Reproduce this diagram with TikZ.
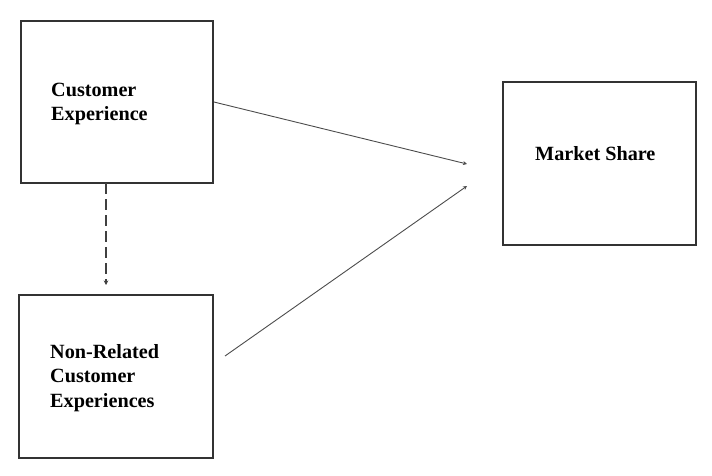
\documentclass[tikz,border=0pt]{standalone}
\usepackage{fontspec}
\setmainfont{Liberation Serif}
\usetikzlibrary{arrows.meta}
\begin{document}
\begin{tikzpicture}[x=1pt,y=-1pt,
  boxnode/.style={draw=black!80,line width=1.8pt,inner sep=0pt},
  label/.style={anchor=west,align=left,inner sep=0pt,font=\fontsize{20.2}{24.5}\selectfont\bfseries},
  link/.style={draw=black!70,line width=0.9pt,-{Stealth[length=4pt,width=4pt]}},
  dlink/.style={draw=black!75,line width=1.8pt,dash pattern=on 11pt off 5pt,-{Stealth[length=4.5pt,width=4.5pt]}}]
\useasboundingbox (0,0) rectangle (712,476);
\node[boxnode,minimum width=192pt,minimum height=162pt] (b1) at (117,102) {};
\node[boxnode,minimum width=194pt,minimum height=163pt] (b2) at (116,376.5) {};
\node[boxnode,minimum width=193pt,minimum height=163pt] (b3) at (599.5,163.5) {};
\node[label] (t1) at (51,104) {Customer\\Experience};
\node[label] (t2) at (50,378) {Non-Related\\Customer\\Experiences};
\node[label] (t3) at (535,154) {Market Share};
\coordinate (e1) at (467,164);
\coordinate (e2) at (467,186);
\coordinate (s2) at (225,356);
\coordinate (d0) at (106,183);
\coordinate (d1) at (106,285);
\draw[link] (b1.east) -- (e1);
\draw[link] (s2) -- (e2);
\draw[dlink] (d0) -- (d1);
\end{tikzpicture}
\end{document}
